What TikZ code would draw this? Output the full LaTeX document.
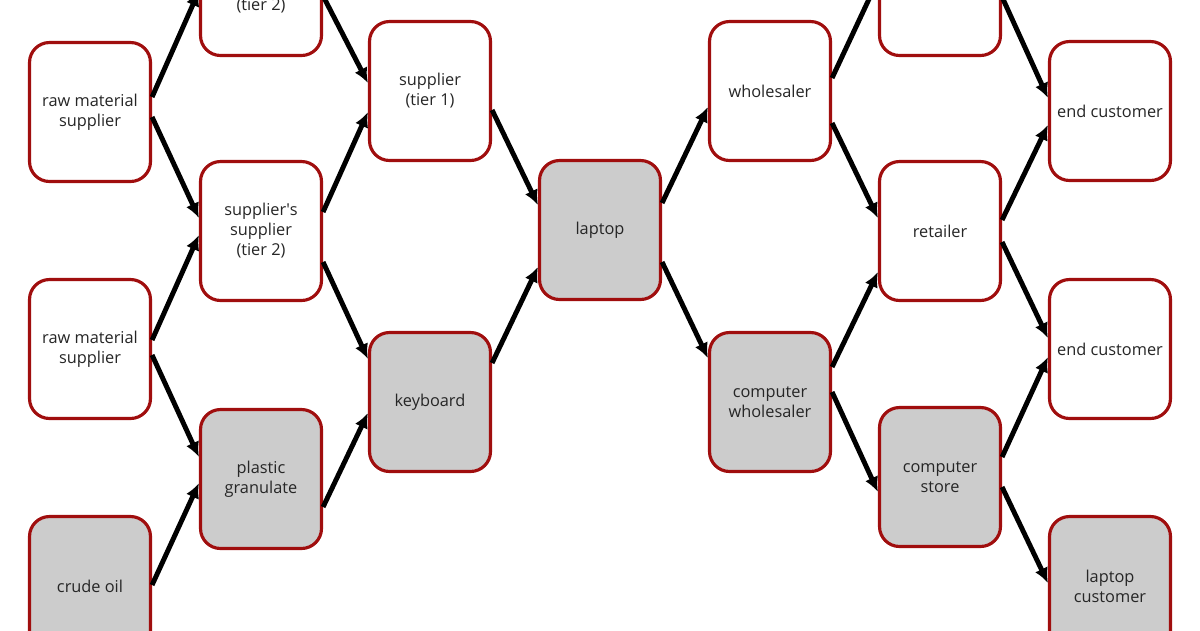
\documentclass[tikz,border=0pt]{standalone}
\usepackage{fontspec}
\setmainfont{Open Sans}
\usepackage{tikz}
\usetikzlibrary{arrows.meta}
\usetikzlibrary{calc}
\usepackage{xcolor}
\definecolor{boxred}{RGB}{160,14,14}
\definecolor{boxgrey}{RGB}{204,204,204}

\begin{document}
\begin{tikzpicture}[x=0.02cm,y=-0.02cm,
		box/.style={draw=boxred,line width=1.8pt,rounded corners=0.4cm,fill=white,
			minimum width=2.42cm,minimum height=2.78cm,align=center,
			font=\fontsize{9.3}{11.4}\selectfont,text=black!85},
		part/.style={box,fill=boxgrey},
		flow/.style={line width=2.8pt,-{Latex[length=3mm,width=2.8mm]}}]
		
		% Frame (the picture is cut at its borders)
		\useasboundingbox (0,0) rectangle (1200,630);
		\clip (0,0) rectangle (1200,630);
		
		% Raw materials
		\node[box] (rms1) at (90,112) {raw material\\supplier};
		\node[box] (rms2) at (90,349) {raw material\\supplier};
		\node[part] (oil) at (90,586) {crude oil};
		
		% Tier 2
		\node[box] (sstop) at (261,-14) {supplier\textquotesingle s\\supplier\\(tier 2)};
		\node[box] (ss) at (261,231) {supplier\textquotesingle s\\supplier\\(tier 2)};
		\node[part] (granulate) at (261,479) {plastic\\granulate};
		
		% Tier 1
		\node[box] (sup) at (430,91) {supplier\\(tier 1)};
		\node[part] (keyboard) at (430,402) {keyboard};
		
		% The product
		\node[part] (laptop) at (600,230) {laptop};
		
		% Trade
		\node[box] (wholesale) at (770,91) {wholesaler};
		\node[part] (compwhole) at (770,402) {computer\\wholesaler};
		\node[box] (rettop) at (940,-14) {};
		\node[box] (retail) at (940,231) {retailer};
		\node[part] (store) at (940,477) {computer\\store};
		
		% Customers
		\node[box] (cust1) at (1110,111) {end customer};
		\node[box] (cust2) at (1110,349) {end customer};
		\node[part] (lapcust) at (1110,586) {laptop\\customer};
		
		% Upstream flows
		\draw[flow] ($(rms1.east)+(0,-15)$) -- ($(sstop.west)+(0,5)$);
		\draw[flow] ($(rms1.east)+(0,5)$) -- ($(ss.west)+(0,-13)$);
		\draw[flow] ($(rms2.east)+(0,-9)$) -- ($(ss.west)+(0,4)$);
		\draw[flow] ($(rms2.east)+(0,6)$) -- ($(granulate.west)+(0,-22)$);
		\draw[flow] ($(oil.east)+(0,-1)$) -- ($(granulate.west)+(0,4)$);
		
		\draw[flow] ($(sstop.east)+(0,10)$) -- ($(sup.west)+(0,-8)$);
		\draw[flow] ($(ss.east)+(0,-19)$) -- ($(sup.west)+(0,21)$);
		\draw[flow] ($(ss.east)+(0,31)$) -- ($(keyboard.west)+(0,-43)$);
		\draw[flow] ($(granulate.east)+(0,28)$) -- ($(keyboard.west)+(0,11)$);
		
		\draw[flow] ($(sup.east)+(0,19)$) -- ($(laptop.west)+(0,-25)$);
		\draw[flow] ($(keyboard.east)+(0,-39)$) -- ($(laptop.west)+(0,37)$);
		
		% Downstream flows
		\draw[flow] ($(laptop.east)+(0,-27)$) -- ($(wholesale.west)+(0,16)$);
		\draw[flow] ($(laptop.east)+(0,32)$) -- ($(compwhole.west)+(0,-44)$);
		
		\draw[flow] ($(wholesale.east)+(0,-13)$) -- ($(rettop.west)+(0,-6)$);
		\draw[flow] ($(wholesale.east)+(0,32)$) -- ($(retail.west)+(0,-13)$);
		\draw[flow] ($(compwhole.east)+(0,-35)$) -- ($(retail.west)+(0,41)$);
		\draw[flow] ($(compwhole.east)+(0,-10)$) -- ($(store.west)+(0,15)$);
		
		\draw[flow] ($(rettop.east)+(0,11)$) -- ($(cust1.west)+(0,-13)$);
		\draw[flow] ($(retail.east)+(0,-11)$) -- ($(cust1.west)+(0,14)$);
		\draw[flow] ($(retail.east)+(0,11)$) -- ($(cust2.west)+(0,-11)$);
		\draw[flow] ($(store.east)+(0,-20)$) -- ($(cust2.west)+(0,8)$);
		\draw[flow] ($(store.east)+(0,10)$) -- ($(lapcust.west)+(0,-3)$);
		
	\end{tikzpicture}
\end{document}
